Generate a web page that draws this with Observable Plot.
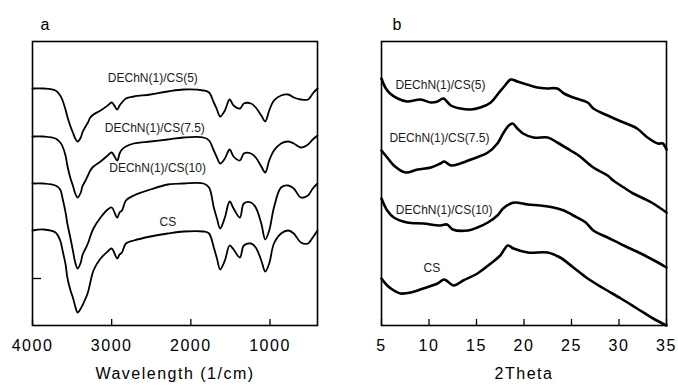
<!DOCTYPE html>
<html><head><meta charset="utf-8">
<script src="https://cdn.jsdelivr.net/npm/d3@7"></script>
<script src="https://cdn.jsdelivr.net/npm/@observablehq/plot@0.6"></script>
<style>
html,body{margin:0;padding:0;background:#fff;}
#wrap{display:flex;width:678px;height:388px;}
</style></head><body><div id="wrap"></div>
<script>
// ---------- Panel a: FTIR ----------
const seriesNames = ["DEChN(1)/CS(5)", "DEChN(1)/CS(7.5)", "DEChN(1)/CS(10)", "CS"];
const wavenumber = [4000,3860,3710,3650,3620,3580,3560,3520,3490,3460,3430,3390,3370,3330,3300,3270,3230,3140,3050,3000,2930,2900,2870,2820,2720,2510,2290,2090,1840,1770,1710,1670,1630,1570,1510,1460,1380,1330,1240,1180,1110,1060,1010,950,860,770,700,610,520,460,400];
const ftirCS5   = [237,237,235,230,225,215,209,199,193,187,184,188,193,199,203,208,211,215,220,223,216,220,223,227,229,231,234,236,235,233,223,216,209,215,226,220,217,222,222,218,210,204,215,225,230,231,228,226,226,232,237];
const ftirCS7_5 = [189,189,187,183,179,169,160,147,140,132,128,133,139,145,150,155,159,164,170,173,165,172,176,179,182,184,186,188,188,185,175,168,162,167,176,169,165,172,172,168,159,153,165,175,182,184,182,178,181,186,190];
const ftirCS10  = [142,142,140,136,127,112,102,87,75,63,57,63,70,77,82,89,97,108,116,118,108,113,115,125,130,136,141,142,142,138,118,107,97,108,124,117,108,122,123,118,102,86,95,118,138,140,137,128,130,137,142];
const ftirCS    = [95,96,93,85,75,60,48,35,28,19,13,17,20,27,33,43,55,67,74,77,67,71,73,82,85,89,92,94,94,92,78,67,56,65,80,76,68,80,82,78,65,54,62,82,92,95,92,83,82,88,95];
const ftirTicks = [4000, 3000, 2000, 1000];
const ftirYTick = [47];
const ftirLabelX = [2480, 2455, 2420, 2290];
const ftirLabelY = [247, 197, 157, 103];

// ---------- Panel b: XRD ----------
const xrdTheta5   = [5,5.4,5.9,6.7,7.7,9.1,10.2,10.9,11.5,12.3,13.3,14.4,15.4,16.5,17.3,18,18.6,19.3,20.3,21.4,22.4,23.5,24.2,25.2,26.7,27.3,28.8,30.5,31.9,33,34.1,34.6,35];
const xrdInt5     = [247,238,232,227,224,226,223,224,227,220,217,216,218,223,232,240,246,244,241,238,237,237,232,228,223,217,210,203,197,188,182,182,176];
const xrdTheta7_5 = [5,5.6,6.3,7.5,8.8,10.2,11.2,11.6,12.3,13.3,14.7,16.2,17.2,17.8,18.4,18.8,19.3,19.9,21,22.5,23.5,24.9,25.9,27.3,28.8,29.4,30.5,31.5,32.6,33.6,35];
const xrdInt7_5   = [175,168,160,153,156,158,162,164,160,162,167,173,182,192,200,202,197,192,188,188,183,175,169,158,150,145,138,132,127,122,113];
const xrdTheta10  = [5,5.6,6.3,7.7,9.4,11.2,11.9,12.5,14.1,15.1,16.2,17.2,17.8,18.6,19.1,20.4,21.7,23.1,24.2,25.2,26.5,27.3,28.8,30.5,32.3,34.1,35];
const xrdInt10    = [127,115,108,103,102,100,101,96,95,98,103,110,117,122,123,121,120,118,115,110,103,95,88,80,72,63,58];
const xrdThetaCS  = [5,5.6,6.3,7,8.1,9.4,10.9,11.6,12.6,13.6,15.1,16.5,17.5,18.3,18.9,20.4,22.5,23.8,25.2,26.7,28.4,30.2,31.9,33.6,35];
const xrdIntCS    = [47,40,35,32,33,37,42,46,40,45,52,62,70,80,77,73,73,68,58,47,37,27,17,7,0];
const xrdTicks = [5, 10, 15, 20, 25, 30, 35];
const xrdLabelX = [11.2, 11.1, 11.6, 10.3];
const xrdLabelY = [240, 187, 115, 57];

// ---------- build tables ----------
const ftirValues = [ftirCS5, ftirCS7_5, ftirCS10, ftirCS];
const ftirRows = seriesNames.flatMap((s, i) => wavenumber.map((w, j) => ({series: s, x: w, v: ftirValues[i][j]})));
const xrdThetas = [xrdTheta5, xrdTheta7_5, xrdTheta10, xrdThetaCS];
const xrdInts = [xrdInt5, xrdInt7_5, xrdInt10, xrdIntCS];
const xrdRows = seriesNames.flatMap((s, i) => xrdThetas[i].map((t, j) => ({series: s, x: t, v: xrdInts[i][j]})));
const ftirLabels = seriesNames.map((s, i) => ({name: s, x: ftirLabelX[i], y: ftirLabelY[i]}));
const xrdLabels = seriesNames.map((s, i) => ({name: s, x: xrdLabelX[i], y: xrdLabelY[i]}));

const font = "'Liberation Sans', Arial, Helvetica, sans-serif";

function panel({rows, xDomain, ticks, title, letter, letterDx, labels, marginLeft, marginRight, yTicks, lineWidth}) {
  return Plot.plot({
    width: 339, height: 388,
    marginTop: 41, marginBottom: 63, marginLeft, marginRight,
    x: {domain: xDomain, label: null},
    y: {domain: [0, 284], axis: null, label: null},
    style: {fontFamily: font, fontSize: "16px", background: "white", color: "black", overflow: "visible"},
    marks: [
      Plot.text(labels, {x: "x", y: "y", text: "name", fontSize: 12, fill: "#1a1a1a"}),
      Plot.line(rows, {x: "x", y: "v", z: "series", stroke: "black", strokeWidth: lineWidth, strokeLinejoin: "round", curve: "catmull-rom"}),
      Plot.tickX(ticks, {x: d => d, insetTop: 278, stroke: "black", strokeWidth: 1.3}),
      yTicks.length ? Plot.tickY(yTicks, {y: d => d, insetRight: 276, stroke: "black", strokeWidth: 1.3}) : null,
      Plot.axisX(ticks, {tickSize: 0, tickPadding: 14, fontSize: 16, label: null, tickFormat: d => String(d)}),
      Plot.text([title], {text: d => d, frameAnchor: "bottom", dy: 53, fontSize: 16}),
      Plot.text([letter], {text: d => d, frameAnchor: "top-left", textAnchor: "start", lineAnchor: "bottom", dx: letterDx, dy: -12, fontSize: 16}),
      Plot.frame({stroke: "black", strokeWidth: 1.6})
    ]
  });
}

const a = panel({rows: ftirRows, xDomain: [4000, 400], ticks: ftirTicks, title: "Wavelength (1/cm)", letter: "a", letterDx: 8,
  labels: ftirLabels, marginLeft: 32, marginRight: 22, yTicks: ftirYTick, lineWidth: 1.8});
const b = panel({rows: xrdRows, xDomain: [5, 35], ticks: xrdTicks, title: "2Theta", letter: "b", letterDx: 11,
  labels: xrdLabels, marginLeft: 42, marginRight: 12, yTicks: [], lineWidth: 2.6});

const wide = new Set([...ftirTicks, ...xrdTicks].map(String).concat(["Wavelength (1/cm)", "2Theta"]));
for (const svg of [a, b]) {
  d3.select(svg).selectAll("text").each(function() {
    if (wide.has(this.textContent.trim())) this.style.letterSpacing = "1.5px";
  });
  document.getElementById("wrap").appendChild(svg);
}
</script></body></html>
